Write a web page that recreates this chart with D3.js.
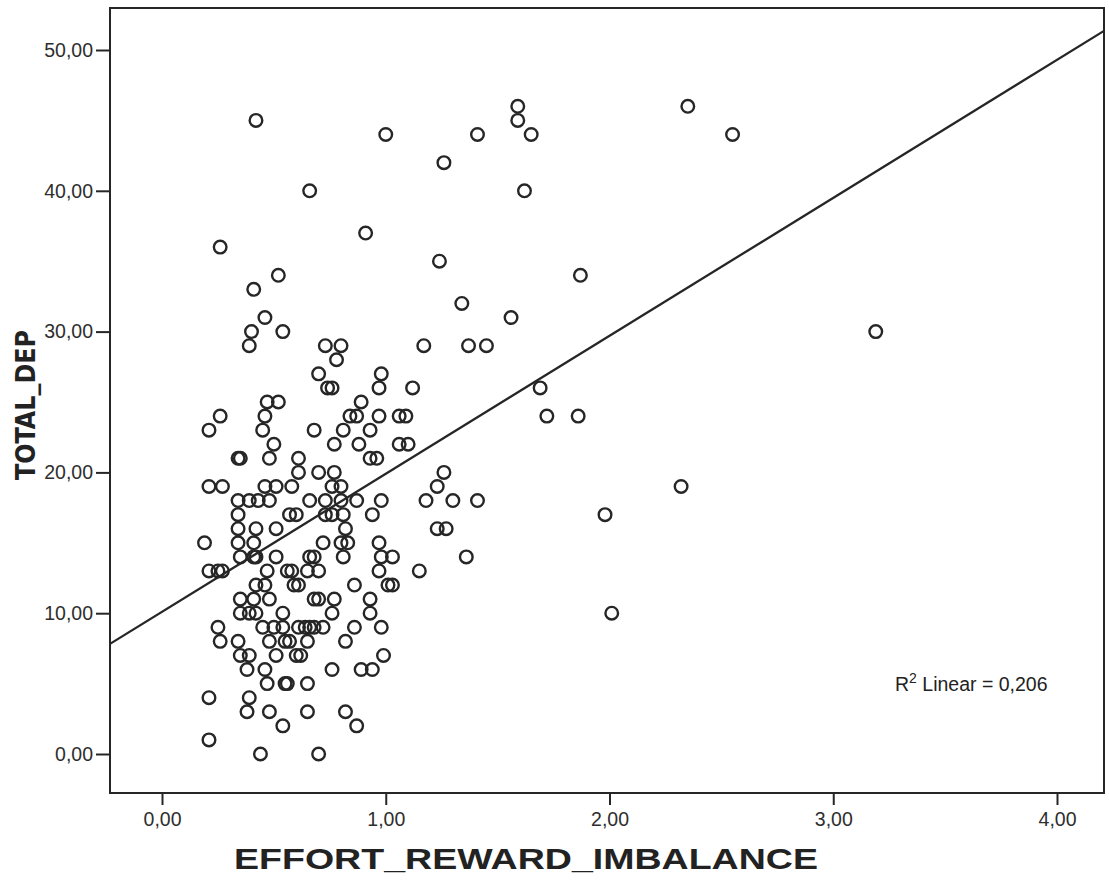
<!DOCTYPE html>
<html>
<head>
<meta charset="utf-8">
<script src="https://cdn.jsdelivr.net/npm/d3@7"></script>
<style>
  html, body { margin: 0; padding: 0; background: #fff; }
  svg { display: block; }
</style>
</head>
<body>
<svg id="chart" width="1109" height="880"></svg>
<script>
// TOTAL_DEP score rows and the EFFORT_REWARD_IMBALANCE values observed at each score
const depScores = [46, 45, 44, 42, 40, 37, 36, 35, 34, 33, 32, 31, 30, 29, 28, 27, 26, 25, 24, 23, 22, 21, 20, 19, 18, 17, 16, 15, 14, 13, 12, 11, 10, 9, 8, 7, 6, 5, 4, 3, 2, 1, 0];
const eriByScore = [
  [1.59, 2.35],
  [0.42, 1.59],
  [1.00, 1.41, 1.65, 2.55],
  [1.26],
  [0.66, 1.62],
  [0.91],
  [0.26],
  [1.24],
  [0.52, 1.87],
  [0.41],
  [1.34],
  [0.46, 1.56],
  [0.40, 0.54, 3.19],
  [0.39, 0.73, 0.80, 1.17, 1.37, 1.45],
  [0.78],
  [0.70, 0.98],
  [0.74, 0.76, 0.97, 1.12, 1.69],
  [0.47, 0.52, 0.89],
  [0.26, 0.46, 0.84, 0.87, 0.97, 1.06, 1.09, 1.72, 1.86],
  [0.21, 0.45, 0.68, 0.81, 0.93],
  [0.50, 0.77, 0.88, 1.06, 1.10],
  [0.34, 0.35, 0.48, 0.61, 0.93, 0.96],
  [0.61, 0.70, 0.77, 1.26],
  [0.21, 0.27, 0.46, 0.51, 0.58, 0.76, 0.80, 1.23, 2.32],
  [0.34, 0.39, 0.43, 0.48, 0.66, 0.73, 0.80, 0.87, 0.98, 1.18, 1.30, 1.41],
  [0.34, 0.57, 0.60, 0.73, 0.76, 0.81, 0.94, 1.98],
  [0.34, 0.42, 0.51, 0.82, 1.23, 1.27],
  [0.19, 0.34, 0.41, 0.72, 0.80, 0.83, 0.97],
  [0.35, 0.41, 0.42, 0.51, 0.66, 0.68, 0.81, 0.98, 1.03, 1.36],
  [0.21, 0.25, 0.27, 0.47, 0.56, 0.58, 0.65, 0.70, 0.97, 1.15],
  [0.42, 0.46, 0.59, 0.61, 0.86, 1.01, 1.03],
  [0.35, 0.41, 0.48, 0.68, 0.70, 0.77, 0.93],
  [0.35, 0.39, 0.42, 0.54, 0.76, 0.93, 2.01],
  [0.25, 0.45, 0.50, 0.54, 0.61, 0.64, 0.66, 0.68, 0.72, 0.86, 0.98],
  [0.26, 0.34, 0.48, 0.55, 0.57, 0.65, 0.82],
  [0.35, 0.39, 0.51, 0.60, 0.62, 0.99],
  [0.38, 0.46, 0.76, 0.89, 0.94],
  [0.47, 0.55, 0.56, 0.65],
  [0.21, 0.39],
  [0.38, 0.48, 0.65, 0.82],
  [0.54, 0.87],
  [0.21],
  [0.44, 0.70]
];
const xTicks = [0, 1, 2, 3, 4];
const yTicks = [0, 10, 20, 30, 40, 50];
const fitIntercept = 10.1;
const fitSlope = 9.8;
const rSquared = 0.206;
const xTitle = "EFFORT_REWARD_IMBALANCE";
const yTitle = "TOTAL_DEP";

const points = [];
depScores.forEach((s, i) => eriByScore[i].forEach(x => points.push({ x: x, y: s })));

const frame = { left: 110, right: 1104, top: 8, bottom: 793 };
const pxPerX = 223.75, x0px = 162;
const pxPerY = 14.08, y0px = 754;

const x = d3.scaleLinear()
  .domain([(frame.left - x0px) / pxPerX, (frame.right - x0px) / pxPerX])
  .range([frame.left, frame.right]);
const y = d3.scaleLinear()
  .domain([(y0px - frame.bottom) / pxPerY, (y0px - frame.top) / pxPerY])
  .range([frame.bottom, frame.top]);

const fmt = v => d3.format(".2f")(v).replace(".", ",");
const ink = "#262626";

const svg = d3.select("#chart");
svg.append("rect").attr("width", 1109).attr("height", 880).attr("fill", "#fff");

// x axis
const xAxis = svg.append("g")
  .attr("transform", `translate(0,${frame.bottom})`)
  .call(d3.axisBottom(x).tickValues(xTicks).tickSize(12).tickPadding(7).tickFormat(fmt));
xAxis.select(".domain").remove();
xAxis.selectAll("line").attr("stroke", ink).attr("stroke-width", 2);
xAxis.selectAll("text").attr("fill", "#2e2e2e").style("font-family", "'Liberation Sans', Arial, sans-serif").style("font-size", "19.5px");

// y axis
const yAxis = svg.append("g")
  .attr("transform", `translate(${frame.left},0)`)
  .call(d3.axisLeft(y).tickValues(yTicks).tickSize(14).tickPadding(3).tickFormat(fmt));
yAxis.select(".domain").remove();
yAxis.selectAll("line").attr("stroke", ink).attr("stroke-width", 2);
yAxis.selectAll("text").attr("fill", "#2e2e2e").style("font-family", "'Liberation Sans', Arial, sans-serif").style("font-size", "19.5px");

// frame
svg.append("rect")
  .attr("x", frame.left).attr("y", frame.top)
  .attr("width", frame.right - frame.left).attr("height", frame.bottom - frame.top)
  .attr("fill", "none").attr("stroke", ink).attr("stroke-width", 2);

// points
svg.append("g").selectAll("circle").data(points).join("circle")
  .attr("cx", d => x(d.x)).attr("cy", d => y(d.y)).attr("r", 6.3)
  .attr("fill", "none").attr("stroke", ink).attr("stroke-width", 2.4);

// fit line
const xd = x.domain();
svg.append("line")
  .attr("x1", x(xd[0])).attr("y1", y(fitIntercept + fitSlope * xd[0]))
  .attr("x2", x(xd[1])).attr("y2", y(fitIntercept + fitSlope * xd[1]))
  .attr("stroke", ink).attr("stroke-width", 2.3);

// R2 label
const r2 = svg.append("text")
  .attr("x", 895).attr("y", 691)
  .attr("fill", "#222")
  .style("font-family", "'Liberation Sans', Arial, sans-serif").style("font-size", "19.5px");
r2.append("tspan").text("R");
r2.append("tspan").attr("dy", -8).style("font-size", "14px").text("2");
r2.append("tspan").attr("dy", 8).text(" Linear = " + d3.format(".3f")(rSquared).replace(".", ","));

// axis titles
svg.append("text")
  .attr("x", 526).attr("y", 869).attr("text-anchor", "middle")
  .attr("textLength", 584).attr("lengthAdjust", "spacingAndGlyphs")
  .attr("fill", "#222").style("font-weight", "bold")
  .style("font-family", "'Liberation Sans Narrow', 'Liberation Sans', Arial, sans-serif").style("font-size", "30px")
  .text(xTitle);

svg.append("text")
  .attr("transform", "translate(35,405) rotate(-90)")
  .attr("text-anchor", "middle")
  .attr("textLength", 150).attr("lengthAdjust", "spacingAndGlyphs")
  .attr("fill", "#222").style("font-weight", "bold")
  .style("font-family", "'DejaVu Sans Condensed', 'Liberation Sans Narrow', Arial, sans-serif").style("font-size", "26px")
  .text(yTitle);
</script>
</body>
</html>
